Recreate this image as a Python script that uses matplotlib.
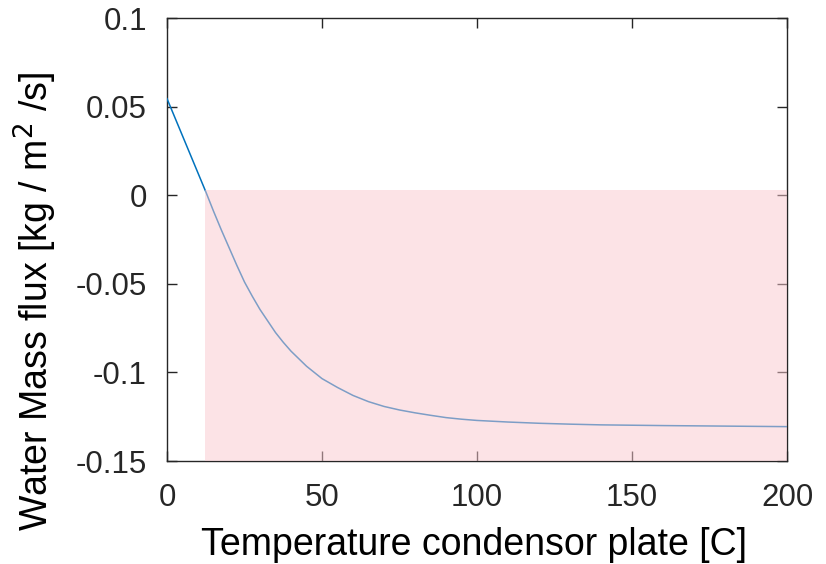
import matplotlib.pyplot as plt
from matplotlib.patches import Rectangle

plt.rcParams['font.family'] = ['Liberation Sans', 'DejaVu Sans']

# plate temperature [C] and water mass flux [kg/m^2/s]
temp = [0, 5, 10, 12.5, 15, 17.5, 20, 22.5, 25, 27.5, 30, 32.5, 35, 37.5,
        40, 45, 50, 55, 60, 65, 70, 75, 80, 85, 90, 95, 100, 110, 120, 130,
        140, 160, 180, 200]
flux = [0.0545, 0.0335, 0.0125, 0.0020, -0.0090, -0.0195, -0.0295, -0.0395,
        -0.0490, -0.0570, -0.0645, -0.0710, -0.0775, -0.0830, -0.0880,
        -0.0965, -0.1035, -0.1085, -0.1130, -0.1165, -0.1192, -0.1212,
        -0.1228, -0.1242, -0.1255, -0.1264, -0.1271, -0.1280, -0.1287,
        -0.1292, -0.1296, -0.1300, -0.1303, -0.1306]

# condensation region (shaded)
shade_x = [12.3, 200]
shade_y = [-0.15, 0.0028]

ink = '#262626'
fig = plt.figure(figsize=(8.26, 5.64), dpi=100)
ax = fig.add_axes([0.2022, 0.1826, 0.7506, 0.7854])

ax.plot(temp, flux, color='#0072BD', lw=1.1, zorder=3)
ax.add_patch(Rectangle((shade_x[0], shade_y[0]), shade_x[1] - shade_x[0],
                       shade_y[1] - shade_y[0], facecolor=(0.98, 0.79, 0.81),
                       edgecolor='none', alpha=0.5, zorder=5, clip_on=False))

ax.set_xlim(0, 200)
ax.set_ylim(-0.15, 0.1)
ax.set_xticks([0, 50, 100, 150, 200])
ax.set_yticks([-0.15, -0.1, -0.05, 0, 0.05, 0.1])
ax.set_yticklabels(['-0.15', '-0.1', '-0.05', '0', '0.05', '0.1'])
ax.tick_params(direction='in', length=7, width=1, colors=ink, labelsize=22.5,
               top=True, right=True)
ax.tick_params(axis='x', pad=15.5)
ax.tick_params(axis='y', pad=14.5)
for s in ax.spines.values():
    s.set_color(ink)
    s.set_linewidth(1.0)

ax.set_xlabel('Temperature condensor plate [C]', fontsize=27, color='black')
ax.set_ylabel('Water Mass flux [kg / m$^2$ /s]', fontsize=27, color='black')
ax.xaxis.set_label_coords(0.495, -0.150)
ax.yaxis.set_label_coords(-0.175, 0.361)

fig.savefig('out.png', dpi=100)
